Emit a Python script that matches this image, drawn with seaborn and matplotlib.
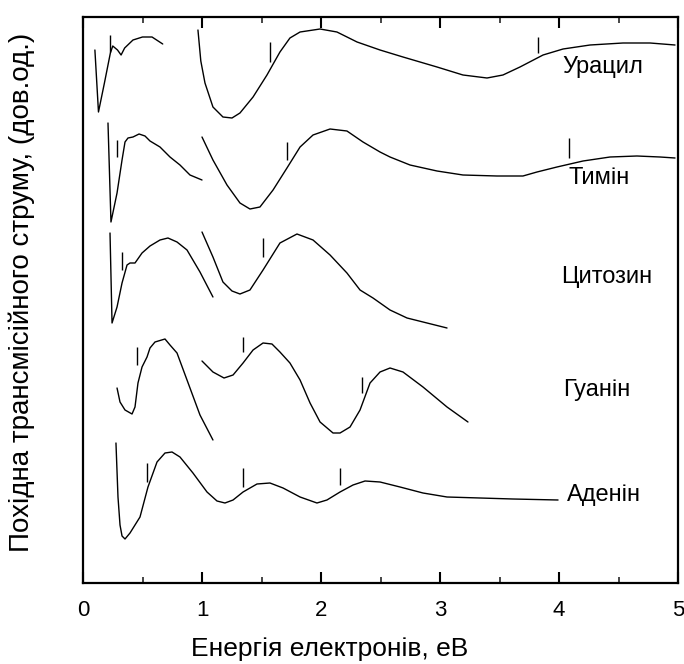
import numpy as np
import pandas as pd
import seaborn as sns
import matplotlib
matplotlib.use("Agg")
import matplotlib.pyplot as plt
from matplotlib.ticker import MultipleLocator

# ---------------- data (energy in eV, derivative in arbitrary units) ----------------
ur1_x = [0.10, 0.13, 0.18, 0.23, 0.25, 0.29, 0.32, 0.35, 0.42, 0.50, 0.58, 0.67]
ur1_y = [533, 471, 500, 530, 537, 533, 528, 535, 543, 546, 546, 539]
ur2_x = [0.966, 0.99, 1.025, 1.092, 1.176, 1.252, 1.319, 1.429, 1.546, 1.655, 1.739, 1.824, 1.992,
         2.134, 2.303, 2.496, 2.689, 2.975, 3.193, 3.395, 3.529, 3.672, 3.866, 4.034, 4.261,
         4.538, 4.765, 4.975]
ur2_y = [553, 522, 500, 476, 466, 465, 470, 486, 508, 531, 545, 551, 554,
         551, 541, 533, 526, 516, 508, 505, 508, 516, 528, 534, 538,
         540, 540, 538]
ur_marks_x = [0.227, 1.571, 3.82]
ur_marks_lo = [531, 521, 530]
ur_marks_hi = [548, 541, 546]

th1_x = [0.21, 0.235, 0.286, 0.328, 0.353, 0.378, 0.42, 0.471, 0.521, 0.563, 0.647, 0.731, 0.815, 0.899, 1.0]
th1_y = [460, 361, 390, 423, 441, 445, 446, 449, 447, 442, 436, 426, 418, 408, 403]
th2_x = [1.0, 1.092, 1.21, 1.319, 1.403, 1.487, 1.597, 1.714, 1.824, 1.933, 2.076, 2.218, 2.353,
         2.496, 2.58, 2.748, 2.975, 3.193, 3.479, 3.697, 3.815, 3.983, 4.202, 4.429, 4.655,
         4.849, 4.975]
th2_y = [446, 423, 398, 380, 374, 376, 393, 415, 436, 448, 454, 452, 441,
         431, 426, 418, 412, 408, 407, 407, 411, 416, 422, 426, 427,
         426, 425]
th_marks_x = [0.286, 1.714, 4.08]
th_marks_lo = [426, 423, 425]
th_marks_hi = [443, 441, 445]

cy1_x = [0.227, 0.244, 0.286, 0.328, 0.370, 0.395, 0.437, 0.496, 0.563, 0.647, 0.714, 0.790, 0.874, 0.983, 1.092]
cy1_y = [350, 260, 276, 300, 318, 320, 320, 330, 337, 343, 345, 341, 333, 311, 286]
cy2_x = [1.0, 1.092, 1.176, 1.252, 1.319, 1.403, 1.513, 1.655, 1.798, 1.933, 2.076, 2.218,
         2.328, 2.437, 2.580, 2.723, 2.891, 3.059]
cy2_y = [351, 326, 301, 292, 289, 293, 313, 340, 349, 343, 328, 310,
         293, 285, 273, 265, 260, 255]
cy_marks_x = [0.328, 1.513]
cy_marks_lo = [313, 326]
cy_marks_hi = [331, 345]

gu1_x = [0.286, 0.311, 0.353, 0.412, 0.437, 0.462, 0.496, 0.538, 0.563, 0.605, 0.689, 0.731, 0.790, 0.899, 0.983, 1.092]
gu1_y = [195, 181, 173, 169, 176, 200, 216, 226, 235, 241, 244, 238, 230, 195, 168, 143]
gu2_x = [1.0, 1.092, 1.185, 1.261, 1.345, 1.429, 1.513, 1.588, 1.655, 1.739, 1.824, 1.908,
         1.992, 2.101, 2.160, 2.244, 2.328, 2.412, 2.496, 2.580, 2.689, 2.857, 3.059, 3.235]
gu2_y = [222, 211, 205, 208, 220, 233, 240, 239, 231, 220, 203, 180,
         161, 150, 150, 156, 173, 200, 211, 215, 211, 196, 176, 161]
gu_marks_x = [0.454, 1.345, 2.345]
gu_marks_lo = [218, 231, 190]
gu_marks_hi = [236, 246, 206]

ad_x = [0.277, 0.294, 0.311, 0.328, 0.353, 0.395, 0.479, 0.546, 0.622, 0.689, 0.748, 0.815, 0.924,
        1.042, 1.126, 1.193, 1.261, 1.345, 1.462, 1.571, 1.681, 1.824, 1.966, 2.050, 2.160,
        2.269, 2.370, 2.496, 2.664, 2.857, 3.059, 3.336, 3.613, 3.992]
ad_y = [140, 86, 58, 47, 44, 50, 66, 96, 121, 130, 131, 126, 110,
        91, 82, 80, 83, 91, 99, 100, 95, 86, 80, 83, 91,
        98, 102, 101, 96, 90, 86, 85, 84, 83]
ad_marks_x = [0.538, 1.345, 2.16]
ad_marks_lo = [101, 96, 98]
ad_marks_hi = [120, 115, 115]

names = ["Урацил", "Тимін", "Цитозин", "Гуанін", "Аденін"]
label_x = [4.025, 4.076, 4.017, 4.034, 4.067]
label_y = [516, 405, 306, 193, 88]

xticks = [0, 1, 2, 3, 4, 5]

# ---------------- figure ----------------
sns.set_theme(style="white")
plt.rcParams["font.family"] = ["Liberation Sans", "DejaVu Sans"]

fig = plt.figure(figsize=(6.84, 6.64), dpi=100)
ax = fig.add_axes([83 / 684, 1 - 583 / 664, (678 - 83) / 684, (583 - 17) / 664])

segments = [
    (ur1_x, ur1_y), (ur2_x, ur2_y),
    (th1_x, th1_y), (th2_x, th2_y),
    (cy1_x, cy1_y), (cy2_x, cy2_y),
    (gu1_x, gu1_y), (gu2_x, gu2_y),
    (ad_x, ad_y),
]
for sx, sy in segments:
    df = pd.DataFrame({"E": sx, "D": sy})
    sns.lineplot(data=df, x="E", y="D", sort=False, estimator=None,
                 color="black", lw=1.0, ax=ax)

for mx, lo, hi in [(ur_marks_x, ur_marks_lo, ur_marks_hi),
                   (th_marks_x, th_marks_lo, th_marks_hi),
                   (cy_marks_x, cy_marks_lo, cy_marks_hi),
                   (gu_marks_x, gu_marks_lo, gu_marks_hi),
                   (ad_marks_x, ad_marks_lo, ad_marks_hi)]:
    ax.vlines(mx, lo, hi, color="black", lw=1.0)

for name, lx, ly in zip(names, label_x, label_y):
    ax.text(lx, ly, name, fontsize=17, ha="left", va="center", color="black")

ax.set_xlim(0, 5)
ax.set_ylim(0, 566)
ax.set_xticks(xticks)
ax.set_xticklabels([str(t) for t in xticks])
ax.xaxis.set_minor_locator(MultipleLocator(0.5))
ax.set_yticks([])
ax.tick_params(axis="x", which="major", direction="in", length=8, width=1.5,
               top=True, bottom=True, labelsize=16, pad=12, colors="black")
ax.tick_params(axis="x", which="minor", direction="in", length=4, width=1.2,
               top=True, bottom=True)
for sp in ax.spines.values():
    sp.set_visible(True)
    sp.set_color("black")
    sp.set_linewidth(1.6)

ax.set_xlabel("Енергія електронів, еВ", fontsize=19, color="black")
ax.xaxis.set_label_coords(0.415, -0.095)
ax.set_ylabel("Похідна трансмісійного струму, (дов.од.)", fontsize=20, color="black")
ax.yaxis.set_label_coords(-0.081, 0.514)

fig.savefig("out.png", dpi=100)
